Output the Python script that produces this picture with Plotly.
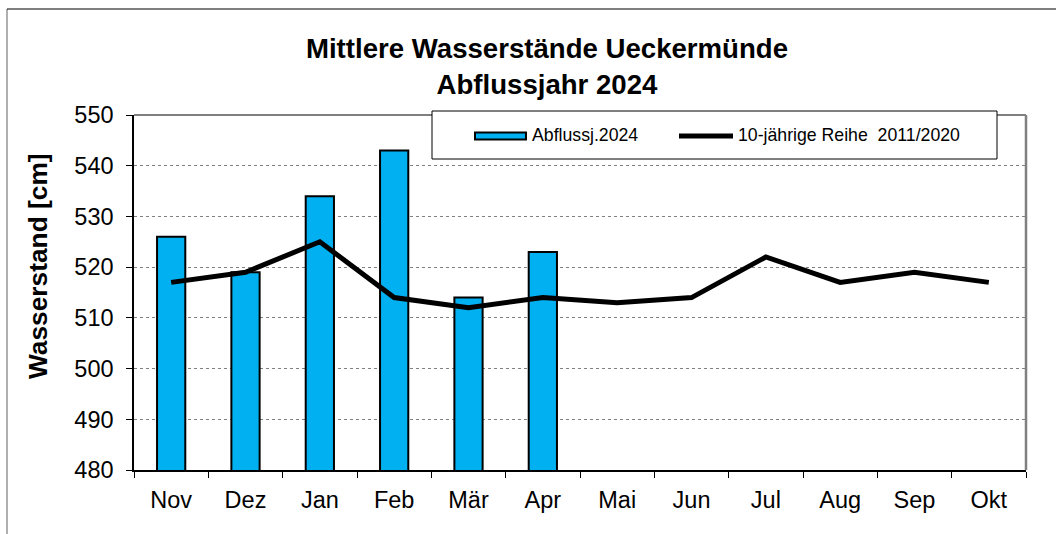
import plotly.graph_objects as go

months = ["Nov", "Dez", "Jan", "Feb", "Mär", "Apr", "Mai", "Jun", "Jul", "Aug", "Sep", "Okt"]
bar_months = ["Nov", "Dez", "Jan", "Feb", "Mär", "Apr"]
abfluss_2024 = [526, 519, 534, 543, 514, 523]
reihe_2011_2020 = [517, 519, 525, 514, 512, 514, 513, 514, 522, 517, 519, 517]
bar_name = "Abflussj.2024"
line_name = "10-jährige Reihe  2011/2020"
y_title = "Wasserstand [cm]"

FONT = "Liberation Sans, Arial, sans-serif"
BLUE = "#00B0F0"

fig = go.Figure()
fig.add_trace(go.Bar(
    x=bar_months, y=abfluss_2024, name=bar_name,
    marker=dict(color=BLUE, line=dict(color="black", width=2)),
    width=0.38, showlegend=False,
))
fig.add_trace(go.Scatter(
    x=months, y=reihe_2011_2020, name=line_name,
    mode="lines", line=dict(color="black", width=5), showlegend=False,
))

W, H = 1056, 534
L, R, T, B = 134, 30, 115, 64
pw, ph = W - L - R, H - T - B


def px(x):
    return (x - L) / pw


def py(y):
    return 1 - (y - T) / ph


shapes = [
    dict(type="line", xref="paper", yref="paper", x0=0, x1=1, y0=1, y1=1,
         line=dict(color="#808080", width=2)),
    dict(type="line", xref="paper", yref="paper", x0=1, x1=1, y0=0, y1=1,
         line=dict(color="#808080", width=2.5)),
    dict(type="line", xref="paper", yref="paper",
         x0=px(7), x1=px(7), y0=py(9), y1=py(H + 5),
         line=dict(color="#606060", width=1)),
    dict(type="line", xref="paper", yref="paper",
         x0=px(7), x1=px(W + 5), y0=py(9), y1=py(9),
         line=dict(color="black", width=1)),
    dict(type="rect", xref="paper", yref="paper",
         x0=px(432), x1=px(997), y0=py(159), y1=py(111),
         fillcolor="white", line=dict(color="black", width=1)),
    dict(type="rect", xref="paper", yref="paper",
         x0=px(475), x1=px(526), y0=py(139.5), y1=py(132.5),
         fillcolor=BLUE, line=dict(color="black", width=2)),
    dict(type="line", xref="paper", yref="paper",
         x0=px(679), x1=px(733), y0=py(136), y1=py(136),
         line=dict(color="black", width=5)),
]

annotations = [
    dict(text=bar_name, xref="paper", yref="paper", x=px(530), y=py(135),
         xanchor="left", yanchor="middle", showarrow=False,
         font=dict(size=17.7, family=FONT, color="black")),
    dict(text=line_name, xref="paper", yref="paper", x=px(736), y=py(135),
         xanchor="left", yanchor="middle", showarrow=False,
         font=dict(size=17.7, family=FONT, color="black")),
    dict(text="<b>" + y_title + "</b>", xref="paper", yref="paper", x=px(38), y=py(266),
         xanchor="center", yanchor="middle", textangle=-90, showarrow=False,
         font=dict(size=26.3, family=FONT, color="black")),
]

fig.update_layout(
    width=W, height=H,
    margin=dict(l=L, r=R, t=T, b=B, autoexpand=False),
    paper_bgcolor="white", plot_bgcolor="white",
    font=dict(family=FONT, color="black"),
    title=dict(
        text="<b>Mittlere Wasserstände Ueckermünde<br>Abflussjahr 2024</b>",
        x=547 / W, xanchor="center", y=1 - 58 / H, yanchor="top",
        font=dict(size=27.6, family=FONT, color="black"),
    ),
    showlegend=False,
    xaxis=dict(
        type="category", categoryorder="array", categoryarray=months,
        range=[-0.5, 11.5],
        tickson="boundaries", ticks="outside", ticklen=6, tickcolor="black", tickwidth=1,
        showline=True, linecolor="black", linewidth=1.5,
        showgrid=False, tickfont=dict(size=23.5, family=FONT),
        ticklabelstandoff=8, automargin=False,
    ),
    yaxis=dict(
        range=[480, 550], dtick=10,
        ticks="outside", ticklen=6, tickcolor="black", tickwidth=1,
        showline=True, linecolor="black", linewidth=1.5,
        showgrid=True, gridcolor="#808080", griddash="dot", gridwidth=1,
        tickfont=dict(size=23.5, family=FONT),
        ticklabelstandoff=8, automargin=False,
        zeroline=False,
    ),
    shapes=shapes,
    annotations=annotations,
)

fig.write_html(
    "out.html",
    config={"displayModeBar": False},
    post_script="document.body.style.margin='0px';document.body.style.overflow='hidden';",
)
